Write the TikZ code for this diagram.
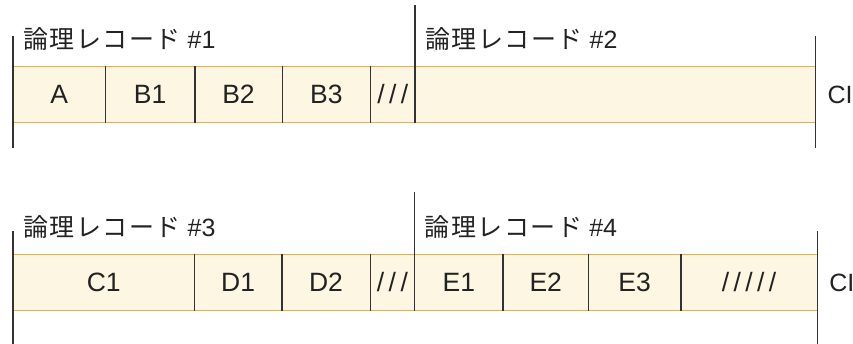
\documentclass[tikz,border=0pt]{standalone}
\usepackage{fontspec}
\setmainfont{Liberation Sans}
\newfontfamily\jpfont[LetterSpace=6]{Noto Sans CJK JP}
\usetikzlibrary{positioning,calc}
\definecolor{cellfill}{HTML}{FDF6E3}
\definecolor{bandline}{HTML}{F5AA3C}
\definecolor{ink}{HTML}{222222}
\definecolor{rule}{HTML}{333333}

\begin{document}
\begin{tikzpicture}[x=1pt, y=1pt]
  \tikzset{
    cell/.style={fill=cellfill, minimum height=56pt, inner sep=0pt, text=ink,
      font=\fontsize{26.5}{30}\selectfont},
    lbl/.style={inner sep=0pt, text=ink, font=\fontsize{25}{29}\selectfont},
    band/.style={bandline, line width=1.5pt},
    divider/.style={rule, line width=1.4pt},
    marker/.style={rule, line width=1.4pt}
  }
  \useasboundingbox (0,0) rectangle (853,344);

  % first block
  \node[cell, minimum width=92pt, anchor=west] (a) at (13,249.5) {A};
  \node[cell, minimum width=89pt, right=0pt of a] (b1) {B1};
  \node[cell, minimum width=87pt, right=0pt of b1] (b2) {B2};
  \node[cell, minimum width=88pt, right=0pt of b2] (b3) {B3};
  \node[cell, minimum width=44pt, right=0pt of b3] (g1) {/\,/\,/};
  \node[cell, minimum width=400pt, right=0pt of g1] (r2) {};
  \draw[band] (a.north west) -- (r2.north east) (a.south west) -- (r2.south east);
  \foreach \c in {a,b1,b2,b3} \draw[divider] (\c.north east) -- (\c.south east);
  \draw[marker] ($(a.north west)+(0,30)$) -- ($(a.south west)+(0,-25.5)$);
  \draw[marker] (g1.south east) -- ($(g1.north east)+(0,61.5)$);
  \draw[marker] ($(r2.north east)+(0,30)$) -- ($(r2.south east)+(0,-25.5)$);
  \node[lbl, anchor=base west] (t1) at ($(a.north west)+(10,17.5)$) {{\jpfont 論理レコード} \#1};
  \node[lbl, anchor=base west] (t2) at ($(g1.north east)+(10,17.5)$) {{\jpfont 論理レコード} \#2};
  \node[lbl, right=12pt of r2] (ci1) {CI};

  % second block
  \node[cell, minimum width=181pt, anchor=west] (c1) at (13,61.5) {C1};
  \node[cell, minimum width=87pt, right=0pt of c1] (d1) {\raisebox{-3pt}{D1}};
  \node[cell, minimum width=88pt, right=0pt of d1] (d2) {D2};
  \node[cell, minimum width=44pt, right=0pt of d2] (g2) {/\,/\,/};
  \node[cell, minimum width=88pt, right=0pt of g2] (e1) {E1};
  \node[cell, minimum width=85pt, right=0pt of e1] (e2) {E2};
  \node[cell, minimum width=92pt, right=0pt of e2] (e3) {E3};
  \node[cell, minimum width=136pt, right=0pt of e3] (g3) {/\,/\,/\,/\,/};
  \draw[band] (c1.north west) -- (g3.north east) (c1.south west) -- (g3.south east);
  \foreach \c in {c1,d1,d2,e1,e2,e3} \draw[divider] (\c.north east) -- (\c.south east);
  \draw[marker] ($(c1.north west)+(0,23.5)$) -- ($(c1.south west)+(0,-34)$);
  \draw[marker] (g2.south east) -- ($(g2.north east)+(0,62)$);
  \draw[marker] ($(g3.north east)+(0,23.5)$) -- ($(g3.south east)+(0,-34)$);
  \node[lbl, anchor=base west] (t3) at ($(c1.north west)+(10,18)$) {{\jpfont 論理レコード} \#3};
  \node[lbl, anchor=base west] (t4) at ($(g2.north east)+(10,18)$) {{\jpfont 論理レコード} \#4};
  \node[lbl, right=12pt of g3] (ci2) {CI};
\end{tikzpicture}
\end{document}
